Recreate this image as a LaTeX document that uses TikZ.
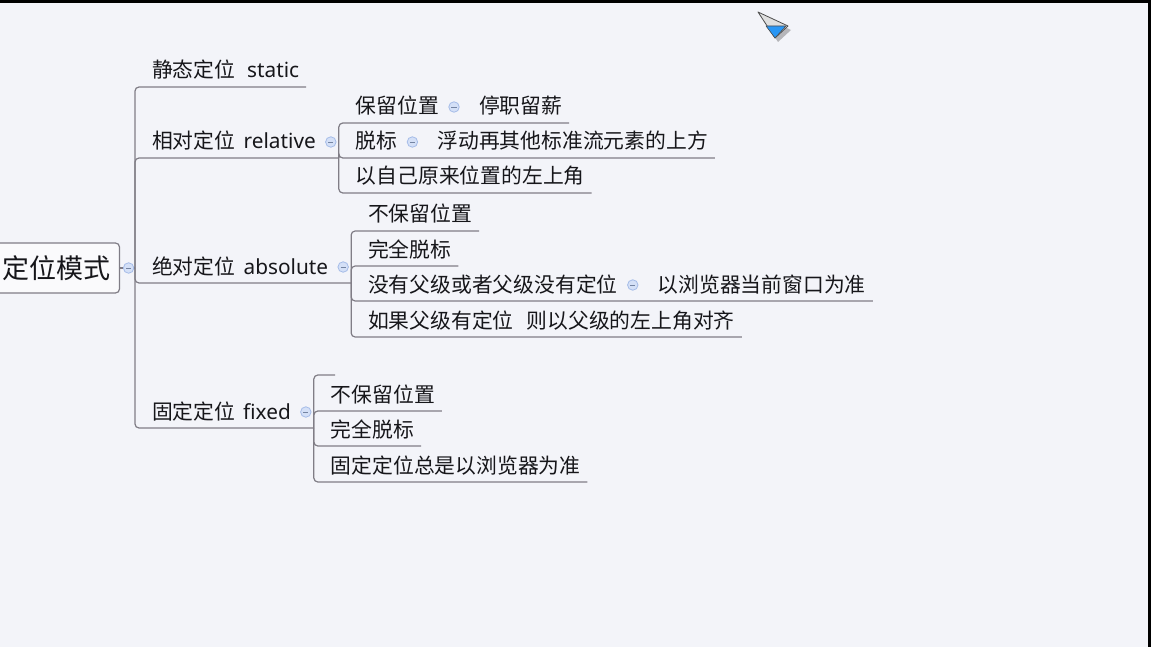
\documentclass[tikz,border=0pt]{standalone}
\usepackage{fontspec}
\setmainfont{Noto Sans CJK SC}
\newfontfamily\latinfont{Noto Sans}
\usetikzlibrary{positioning,calc}

\definecolor{bgcol}{RGB}{243,244,249}
\definecolor{linecol}{RGB}{128,125,134}
\definecolor{txtcol}{RGB}{22,22,26}
\definecolor{btnfill}{RGB}{212,224,247}
\definecolor{btndraw}{RGB}{165,188,232}
\definecolor{cursorblue}{RGB}{40,150,245}

\begin{document}
\begin{tikzpicture}[x=1pt,y=-1pt,
  conn/.style={draw=linecol, line width=1.2pt, rounded corners=4pt},
  topic/.style={anchor=south west, text=txtcol, font=\fontsize{20.8}{24}\selectfont,
    inner xsep=0pt, inner ysep=5pt, text height=15pt, text depth=4pt, outer sep=0pt,
    execute at begin node=\hspace*{17pt}, execute at end node=\hspace*{7pt}},
  parent/.style={topic, execute at end node=\hspace*{16pt}},
  root/.style={draw=linecol, fill=white!55!bgcol, line width=1.2pt, rounded corners=4pt,
    text=txtcol, font=\fontsize{27}{30}\selectfont, minimum height=50pt, inner xsep=9pt},
  btn/.style={circle, draw=btndraw, fill=btnfill, line width=0.8pt, minimum size=10.5pt,
    inner sep=0pt, path picture={\draw[btndraw!70!black, line width=0.8pt]
      ([xshift=-2.6pt]path picture bounding box.center) -- ([xshift=2.6pt]path picture bounding box.center);}}
]
\fill[bgcol] (0,0) rectangle (1151,647);
\useasboundingbox (0,0) rectangle (1151,647);

% central topic
\node[root] (mode) at (56.5,268) {定位模式};
\coordinate (modejn) at (135,268);
\draw[conn] (mode.east) -- (modejn);
\node[btn] (mode-btn) at ([xshift=8.5pt]mode.east) {};

% main branches
\node[topic] (static) at (modejn |- 0,87) {静态定位\hspace{12pt}{\latinfont static}};
\node[parent] (rel) at (modejn |- 0,158) {相对定位\hspace{8.5pt}{\latinfont relative}};
\node[parent] (abs) at (modejn |- 0,283) {绝对定位\hspace{8.5pt}{\latinfont absolute}};
\node[parent] (fix) at (modejn |- 0,428) {固定定位\hspace{8pt}{\latinfont fixed}};
\foreach \c in {static,rel,abs,fix}
    \draw[conn] (modejn) |- (\c.south east);

% relative
\node[parent] (keep) at (rel.south east |- 0,123) {保留位置};
\node[topic] (salary) at (keep.south east) {停职留薪};
\node[parent] (float) at (rel.south east) {脱标};
\node[topic] (above) at (float.south east) {浮动再其他标准流元素的上方};
\node[topic] (origin) at (rel.south east |- 0,193) {以自己原来位置的左上角};
\foreach \c in {salary,above,origin}
    \draw[conn] (rel.south east) |- (\c.south east);

% absolute
\node[topic] (nokeep) at (abs.south east |- 0,231) {不保留位置};
\node[topic] (full) at (abs.south east |- 0,266) {完全脱标};
\node[parent] (noparent) at (abs.south east |- 0,301) {没有父级或者父级没有定位};
\node[topic] (window) at (noparent.south east) {以浏览器当前窗口为准};
\node[topic] (hasparent) at (abs.south east |- 0,337) {如果父级有定位\hspace{13pt}则以父级的左上角对齐};
\foreach \c in {nokeep,full,window,hasparent}
    \draw[conn] (abs.south east) |- (\c.south east);

% fixed
\coordinate (fixstub) at (335,375);
\node[topic] (fnokeep) at (fix.south east |- 0,411) {不保留位置};
\node[topic] (ffull) at (fix.south east |- 0,446) {完全脱标};
\node[topic] (fbrowser) at (fix.south east |- 0,482) {固定定位总是以浏览器为准};
\foreach \c in {fixstub,fnokeep.south east,ffull.south east,fbrowser.south east}
    \draw[conn] (fix.south east) |- (\c);

% collapse buttons
\foreach \p in {rel,abs,fix,keep,float,noparent}
    \node[btn] (\p-btn) at ([xshift=-8pt,yshift=16pt]\p.south east) {};

% mouse pointer
\fill[black, opacity=0.25] (761,16) -- (791,30) -- (778,42) -- cycle;
\filldraw[draw=black!70, fill=gray!25, line width=0.8pt, line join=round] (758,12) -- (788,26) -- (775,38) -- cycle;
\filldraw[draw=black!70, fill=cursorblue, line width=0.6pt, line join=round] (766,26) -- (786,26) -- (775,38) -- cycle;

% window frame
\fill[black] (0,0) rectangle (1151,3);
\fill[black] (1147.5,0) rectangle (1151,647);
\end{tikzpicture}
\end{document}
